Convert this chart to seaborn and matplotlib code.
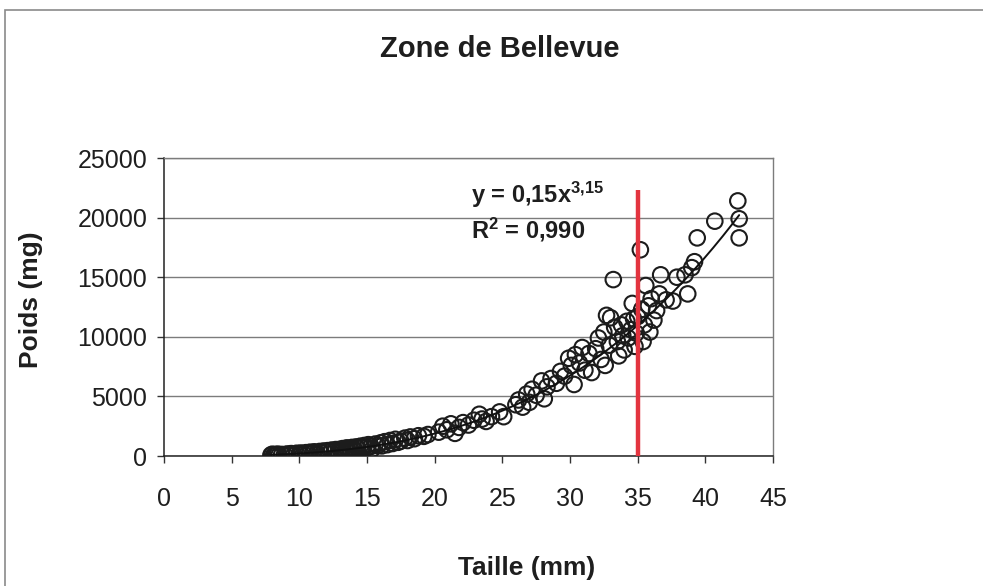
import numpy as np
import pandas as pd
import matplotlib
matplotlib.use("Agg")
import matplotlib.pyplot as plt
from matplotlib.patches import Rectangle
import seaborn as sns

# ---------------- data ----------------
taille = [7.9, 8.0, 8.1, 8.2, 8.3, 8.4, 8.5, 8.7, 8.9, 9.1, 9.3, 9.4, 9.6, 9.8, 10.0, 10.1,
          10.3, 10.5, 10.6, 10.8, 11.0, 11.1, 11.3, 11.5, 11.6, 11.8, 12.0, 12.1, 12.3, 12.4,
          12.6, 12.7, 12.9, 13.0, 13.1, 13.2, 13.3, 13.4, 13.5, 13.6, 13.7, 13.8, 13.9, 14.0,
          14.1, 14.2, 14.3, 14.5, 14.6, 14.8, 15.0, 15.1, 15.3, 15.4, 15.6, 15.8, 16.0, 16.1,
          16.3, 16.5, 16.7, 16.9, 17.1, 17.3, 17.5, 17.8, 18.0, 18.2, 18.5, 18.8, 19.2, 19.5,
          20.3, 20.6, 20.9, 21.2, 21.5, 21.8, 22.1, 22.5, 22.9, 23.3, 23.5, 23.8, 24.2, 24.8,
          25.1, 26.0, 26.2, 26.5, 26.8, 27.0, 27.2, 27.5, 27.9, 28.1, 28.3, 28.6, 29.0, 29.3,
          29.6, 29.9, 30.1, 30.3, 30.4, 30.7, 30.9, 31.1, 31.4, 31.6,
          31.9, 32.1, 32.3, 32.5, 32.6, 32.7, 32.9, 33.0, 33.2, 33.3, 33.5, 33.6, 33.8, 33.9,
          34.0, 34.2, 34.3, 34.5, 34.6, 34.7, 34.8, 34.9, 35.0, 35.2, 35.3, 35.4, 35.5, 35.6,
          35.8, 35.9, 36.0, 36.2, 36.4, 36.6, 36.7, 37.1, 37.6, 37.9, 38.5, 38.7, 39.0, 39.2,
          39.4, 40.7, 42.4, 42.5, 42.5]
poids = [80, 150, 40, 120, 90, 160, 60, 130, 110, 170, 140, 200, 120, 230, 180, 250,
         210, 280, 190, 320, 260, 350, 240, 380, 300, 420, 330, 450, 360, 500,
         410, 540, 380, 560, 450, 620, 300, 520, 680, 470, 640, 560, 720, 600,
         500, 760, 650, 820, 700, 880, 720, 950, 800, 600, 1000, 880, 1100, 850,
         1200, 950, 1300, 1050, 1400, 1150, 1250, 1500, 1300, 1600, 1450, 1700, 1650, 1800,
         2000, 2500, 2200, 2700, 1900, 2400, 2800, 2600, 3000, 3500, 3100, 2900, 3300, 3700,
         3300, 4300, 4700, 4100, 5200, 4500, 5600, 5100, 6300, 4800, 5800, 6500, 6100, 7100,
         6700, 8200, 7600, 6000, 8500, 7800, 9100, 7200, 8600, 7000,
         9000, 9900, 8100, 10400, 7600, 11800, 9300, 11600, 14800, 10800, 9600, 8400, 11000, 10100,
         8900, 11300, 9900, 10600, 12800, 11500, 9200, 10300, 11700, 17300, 12300, 9600, 11000, 14300,
         12600, 10400, 13200, 11400, 12200, 13600, 15200, 13100, 13000, 15000, 15200, 13600, 15800, 16300,
         18300, 19700, 21400, 19900, 18300]

fit_a = 0.15      # y = a * x^b
fit_b = 3.15
seuil_taille = 35
seuil_haut = 22300

x_ticks = [0, 5, 10, 15, 20, 25, 30, 35, 40, 45]
y_ticks = [0, 5000, 10000, 15000, 20000, 25000]

# ---------------- plot ----------------
sns.set_theme(style="white")
plt.rcParams['font.family'] = ['Liberation Sans', 'DejaVu Sans']
plt.rcParams['mathtext.fontset'] = 'custom'
plt.rcParams['mathtext.rm'] = 'Liberation Sans:bold'
plt.rcParams['mathtext.bf'] = 'Liberation Sans:bold'
plt.rcParams['mathtext.default'] = 'bf'

txt = '#1e1e1e'
fig = plt.figure(figsize=(9.83, 5.86), dpi=100)
ax = fig.add_axes([164/983, 1-456/586, (773-164)/983, (456-158)/586])

df = pd.DataFrame({'Taille': taille, 'Poids': poids})
sns.scatterplot(data=df, x='Taille', y='Poids', ax=ax, s=125, marker='o',
                fc='none', ec='#1c1c1c', linewidth=1.5, zorder=3)

xs = np.linspace(min(taille), max(taille), 200)
fit_df = pd.DataFrame({'x': xs, 'y': fit_a * xs ** fit_b})
sns.lineplot(data=fit_df, x='x', y='y', ax=ax, color='#111111', lw=1.4, zorder=4)

ax.vlines(seuil_taille, 0, seuil_haut, color='#e3343f', lw=3.2, zorder=5)

ax.set_xlim(0, 45)
ax.set_ylim(0, 25000)
ax.set_xticks(x_ticks)
ax.set_yticks(y_ticks)
ax.set_xticklabels([str(v) for v in x_ticks])
ax.set_yticklabels([str(v) for v in y_ticks])
ax.set_xlabel('')
ax.set_ylabel('')
ax.yaxis.grid(True, color='#7c7c7c', lw=1.0)
ax.xaxis.grid(False)
ax.set_axisbelow(True)
for s in ['left', 'bottom']:
    ax.spines[s].set_color('#222222')
    ax.spines[s].set_linewidth(1.1)
for s in ['top', 'right']:
    ax.spines[s].set_color('#7c7c7c')
    ax.spines[s].set_linewidth(1.0)
ax.tick_params(axis='both', direction='out', length=5, width=1, color='#333333',
               labelsize=18, labelcolor=txt)
ax.tick_params(axis='x', pad=17)
ax.tick_params(axis='y', pad=7)
ax.tick_params(bottom=True, left=True)

ax.text(22.7, 21900, r'y = 0,15x$^{3{,}15}$', fontsize=17, fontweight='bold',
        color=txt, va='center', ha='left')
ax.text(22.7, 19000, r'R$^{2}$ = 0,990', fontsize=17, fontweight='bold',
        color=txt, va='center', ha='left')

fig.text(500/983, 1-49/586, 'Zone de Bellevue', fontsize=21, fontweight='bold',
         color=txt, ha='center', va='center')
fig.text(31/983, 1-300/586, 'Poids (mg)', fontsize=19, fontweight='bold',
         color=txt, ha='center', va='center', rotation=90)
fig.text(527/983, 1-568/586, 'Taille (mm)', fontsize=19, fontweight='bold',
         color=txt, ha='center', va='center')

fig.patches.append(Rectangle((5/983, -0.05), 1.2, 1-10/586+0.05, transform=fig.transFigure,
                             fill=False, ec='#8a8a8a', lw=1.2))

fig.savefig('out.png', dpi=100)
